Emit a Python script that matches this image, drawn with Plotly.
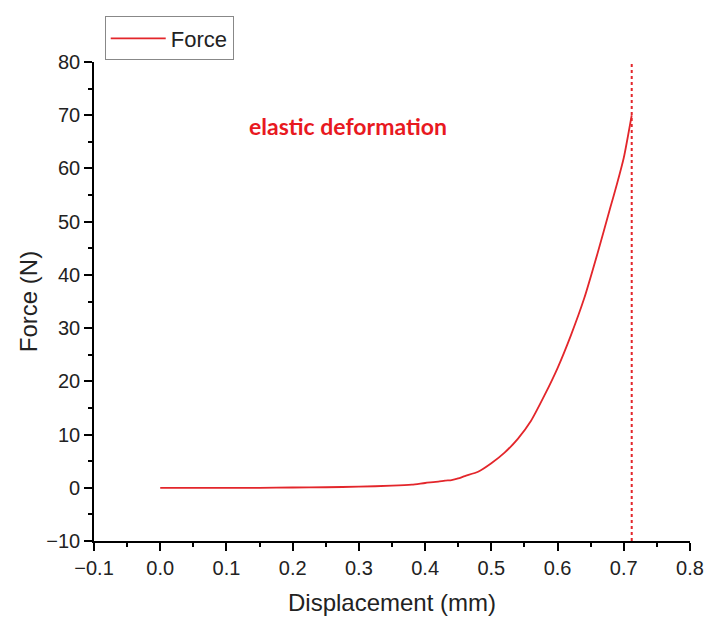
import plotly.graph_objects as go

displacement = [0.0, 0.05, 0.1, 0.15, 0.2, 0.25, 0.3, 0.35, 0.38, 0.4, 0.42, 0.43, 0.44, 0.45,
                0.46, 0.48, 0.50, 0.52, 0.54, 0.56, 0.58, 0.60, 0.62, 0.64, 0.66, 0.68, 0.69, 0.70, 0.712]
force = [0.0, 0.0, 0.0, 0.0, 0.05, 0.1, 0.2, 0.4, 0.6, 0.9, 1.15, 1.35, 1.45, 1.75,
         2.2, 3.0, 4.6, 6.6, 9.2, 12.6, 17.3, 22.5, 28.6, 35.5, 43.9, 52.8, 57.2, 62.0, 70.0]

limit_x = [0.712, 0.712]
limit_y = [-10, 80]

annotation_text = "elastic deformation"
annotation_pos = (0.284, 68)

red = "#e3262b"

fig = go.Figure()
fig.add_trace(go.Scatter(x=displacement, y=force, mode="lines", name="Force",
                         line=dict(color=red, width=1.8, shape="spline", smoothing=0.6)))
fig.add_trace(go.Scatter(x=limit_x, y=limit_y, mode="lines", showlegend=False,
                         line=dict(color=red, width=2, dash="dot")))

fig.add_annotation(x=annotation_pos[0], y=annotation_pos[1], text="<b>" + annotation_text + "</b>",
                   showarrow=False, font=dict(family="Lato, Open Sans, sans-serif", size=23, color="#e8191f"))

axis_common = dict(showline=True, linecolor="black", linewidth=1.6, ticks="outside",
                   tickcolor="black", tickwidth=1.6, ticklen=8, showgrid=False, zeroline=False,
                   automargin=False,
                   tickfont=dict(family="Liberation Sans, Arial, sans-serif", size=20, color="#222"),
                   title_font=dict(family="Liberation Sans, Arial, sans-serif", size=24, color="#222"))

fig.update_xaxes(range=[-0.1, 0.8], dtick=0.1, tickformat=".1f", title_text="Displacement (mm)",
                 title_standoff=16,
                 minor=dict(dtick=0.05, ticks="outside", ticklen=4, tickcolor="black", tickwidth=1.6),
                 **axis_common)
fig.update_yaxes(range=[-10, 80], dtick=10, title_text="Force (N)", title_standoff=2,
                 minor=dict(dtick=5, ticks="outside", ticklen=4, tickcolor="black", tickwidth=1.6),
                 **axis_common)

fig.update_layout(
    width=709, height=619,
    margin=dict(l=94, r=19, t=62, b=78),
    plot_bgcolor="white", paper_bgcolor="white",
    legend=dict(x=0.018, y=1.095, xanchor="left", yanchor="top", itemwidth=55,
                bordercolor="#888", borderwidth=1, bgcolor="white",
                font=dict(family="Liberation Sans, Arial, sans-serif", size=22, color="#222")),
)

fig.write_html("out.html")
